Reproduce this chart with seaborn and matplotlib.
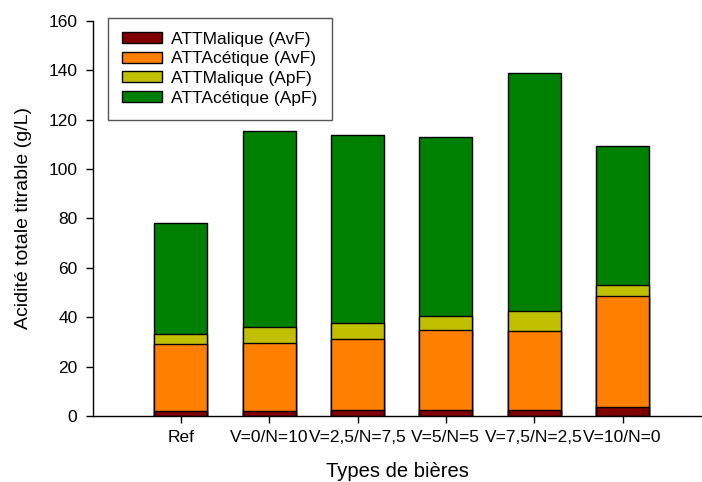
import numpy as np
import matplotlib
matplotlib.use("Agg")
import matplotlib.pyplot as plt
from matplotlib.patches import Patch
import seaborn as sns

types = ["Ref", "V=0/N=10", "V=2,5/N=7,5", "V=5/N=5", "V=7,5/N=2,5", "V=10/N=0"]
malique_avf = [2.1, 2.1, 2.3, 2.5, 2.5, 3.7]
acetique_avf = [27.2, 27.3, 28.9, 32.2, 32.0, 44.9]
malique_apf = [4.0, 6.5, 6.3, 5.9, 8.1, 4.5]
acetique_apf = [44.7, 79.6, 76.3, 72.2, 96.3, 56.2]

series = ["ATTMalique (AvF)", "ATTAcétique (AvF)", "ATTMalique (ApF)", "ATTAcétique (ApF)"]
colors = ["#800000", "#FF8000", "#C0C000", "#008000"]

sns.set_style("ticks")
plt.rcParams["font.family"] = ["Liberation Sans", "DejaVu Sans"]
plt.rcParams["text.color"] = "black"
plt.rcParams["axes.labelcolor"] = "black"
plt.rcParams["xtick.color"] = "black"
plt.rcParams["ytick.color"] = "black"

fig = plt.figure(figsize=(7.02, 4.82), dpi=100)
ax = fig.add_axes([0.132, 0.137, 0.868, 0.82])

# stacked bars: draw cumulative totals from the top layer down
layers = np.array([malique_avf, acetique_avf, malique_apf, acetique_apf])
cum = np.cumsum(layers, axis=0)
for i in range(3, -1, -1):
    sns.barplot(x=types, y=cum[i], color=colors[i], saturation=1, width=0.6,
                edgecolor="black", linewidth=1, ax=ax)

ax.set_xlim(-1, 5.9)
ax.set_ylim(0, 160)
ax.set_yticks(range(0, 161, 20))
sns.despine(ax=ax)
ax.tick_params(axis="both", labelsize=12.5, length=5, width=1, color="black",
               labelcolor="black")
ax.tick_params(axis="y", pad=6)
ax.tick_params(axis="x", pad=5)
for sp in ["left", "bottom"]:
    ax.spines[sp].set_color("black")
    ax.spines[sp].set_linewidth(1)

ax.set_xlabel("Types de bières", fontsize=14.5, labelpad=12)
ax.set_ylabel("Acidité totale titrable (g/L)", fontsize=14, labelpad=12)

handles = [Patch(facecolor=c, edgecolor="black", linewidth=1) for c in colors]
leg = fig.legend(handles, series, loc="upper left", bbox_to_anchor=(0.154, 0.963),
                 fontsize=12.5, frameon=True, fancybox=False, borderaxespad=0,
                 borderpad=0.8, handlelength=2.3, handleheight=0.6,
                 handletextpad=0.55, labelspacing=0.27)
leg.get_frame().set_edgecolor("#555555")
leg.get_frame().set_linewidth(1)
leg.get_frame().set_alpha(1)

fig.savefig("out.png", dpi=100)
